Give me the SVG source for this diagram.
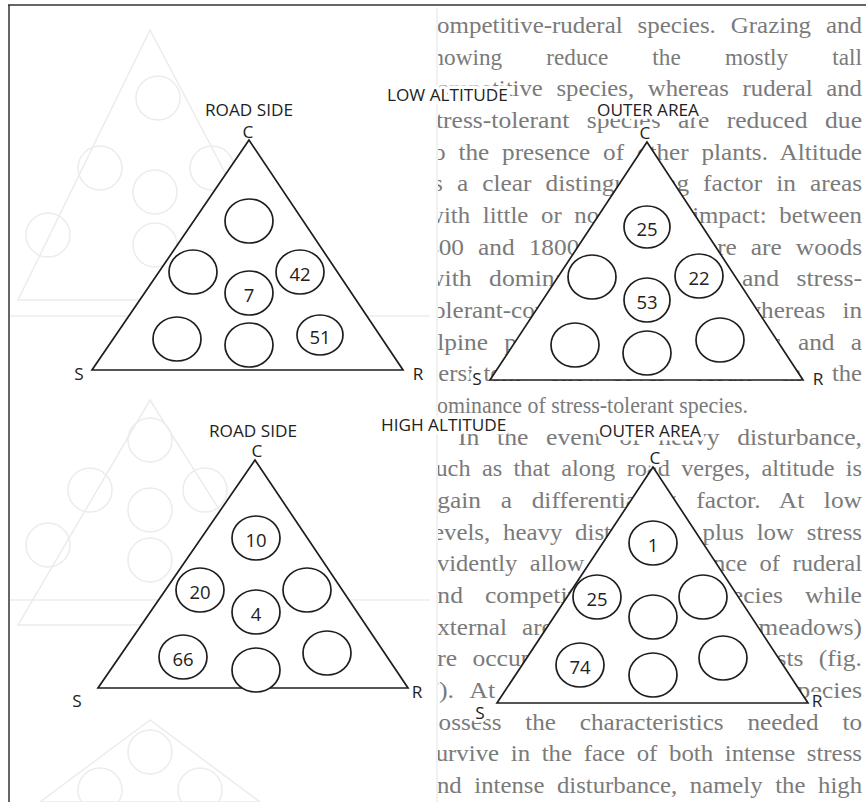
<svg xmlns="http://www.w3.org/2000/svg" width="866" height="802" viewBox="0 0 866 802">
<defs>
<style>
.body{font-family:"Liberation Serif","Times New Roman",serif;font-size:23px;fill:#7a7a7a}
.lbl{font-family:"Open Sans","Liberation Sans",Arial,sans-serif;font-size:17.2px;fill:#222;text-anchor:middle;stroke:#ffffff;stroke-width:7px;stroke-linejoin:round;paint-order:stroke}
.ttl{font-family:"Open Sans","Liberation Sans",Arial,sans-serif;font-size:17.2px;fill:#222;stroke:#ffffff;stroke-width:7px;stroke-linejoin:round;paint-order:stroke}
.num{font-family:"Open Sans","Liberation Sans",Arial,sans-serif;font-size:18.5px;fill:#222;text-anchor:middle;dominant-baseline:central}
.tri{fill:#ffffff;stroke:#1e1e1e;stroke-width:1.7}
.c{fill:#ffffff;stroke:#1e1e1e;stroke-width:1.7}
.frame{stroke:#333;stroke-width:1.5;fill:none}
.ghost{fill:none;stroke:#ececec;stroke-width:1.5}
</style>
<clipPath id="col"><rect x="438" y="0" width="428" height="802"/></clipPath>
</defs>
<rect x="0" y="0" width="866" height="802" fill="#ffffff"/>

<!-- faint bleed-through from the reverse page -->
<g id="ghost">
<line class="ghost" x1="437" y1="8" x2="437" y2="802"/>
<polygon class="ghost" points="150,30 18,300 292,300"/>
<circle class="ghost" cx="158" cy="98" r="22"/>
<circle class="ghost" cx="100" cy="168" r="22"/>
<circle class="ghost" cx="155" cy="192" r="22"/>
<circle class="ghost" cx="212" cy="168" r="22"/>
<circle class="ghost" cx="48" cy="235" r="22"/>
<circle class="ghost" cx="155" cy="245" r="22"/>
<line class="ghost" x1="10" y1="316" x2="430" y2="316"/>
<polygon class="ghost" points="150,400 18,625 292,625"/>
<circle class="ghost" cx="150" cy="440" r="22"/>
<circle class="ghost" cx="90" cy="490" r="22"/>
<circle class="ghost" cx="150" cy="510" r="22"/>
<circle class="ghost" cx="205" cy="490" r="22"/>
<circle class="ghost" cx="48" cy="545" r="22"/>
<circle class="ghost" cx="150" cy="560" r="22"/>
<line class="ghost" x1="10" y1="600" x2="430" y2="600"/>
<polygon class="ghost" points="150,720 40,802 260,802"/>
<circle class="ghost" cx="150" cy="752" r="22"/>
<circle class="ghost" cx="100" cy="790" r="22"/>
<circle class="ghost" cx="200" cy="790" r="22"/>
</g>

<!-- right column text of the page -->
<g id="bodytext" class="body" clip-path="url(#col)">
<text x="426" y="33" word-spacing="8" textLength="436" lengthAdjust="spacingAndGlyphs">competitive-ruderal species. Grazing and</text>
<text x="426" y="65" word-spacing="38" textLength="436" lengthAdjust="spacingAndGlyphs">mowing reduce the mostly tall</text>
<text x="426" y="96" word-spacing="7" textLength="436" lengthAdjust="spacingAndGlyphs">competitive species, whereas ruderal and</text>
<text x="426" y="128" word-spacing="10" textLength="436" lengthAdjust="spacingAndGlyphs">stress-tolerant species are reduced due</text>
<text x="426" y="160" word-spacing="6" textLength="436" lengthAdjust="spacingAndGlyphs">to the presence of other plants. Altitude</text>
<text x="426" y="191" word-spacing="7" textLength="436" lengthAdjust="spacingAndGlyphs">is a clear distinguishing factor in areas</text>
<text x="426" y="223" word-spacing="6" textLength="436" lengthAdjust="spacingAndGlyphs">with little or no human impact: between</text>
<text x="426" y="255" word-spacing="7" textLength="436" lengthAdjust="spacingAndGlyphs">400 and 1800-2000 m there are woods</text>
<text x="426" y="286" word-spacing="10" textLength="436" lengthAdjust="spacingAndGlyphs">with dominant competitive and stress-</text>
<text x="426" y="318" word-spacing="10" textLength="436" lengthAdjust="spacingAndGlyphs">tolerant-competitive species, whereas in</text>
<text x="426" y="350" word-spacing="9" textLength="436" lengthAdjust="spacingAndGlyphs">alpine prairies low temperatures and a</text>
<text x="426" y="381" word-spacing="23" textLength="436" lengthAdjust="spacingAndGlyphs">persistent snow-cover result in the</text>
<text x="426" y="413" textLength="322" lengthAdjust="spacingAndGlyphs">dominance of stress-tolerant species.</text>
<text x="458" y="445" word-spacing="10" textLength="404" lengthAdjust="spacingAndGlyphs">In the event of heavy disturbance,</text>
<text x="426" y="476" word-spacing="5" textLength="436" lengthAdjust="spacingAndGlyphs">such as that along road verges, altitude is</text>
<text x="426" y="508" word-spacing="12" textLength="436" lengthAdjust="spacingAndGlyphs">again a differentiating factor. At low</text>
<text x="426" y="540" word-spacing="6" textLength="436" lengthAdjust="spacingAndGlyphs">levels, heavy disturbance plus low stress</text>
<text x="426" y="571" word-spacing="6" textLength="436" lengthAdjust="spacingAndGlyphs">evidently allow the dominance of ruderal</text>
<text x="426" y="603" word-spacing="14" textLength="436" lengthAdjust="spacingAndGlyphs">and competitive-ruderal species while</text>
<text x="426" y="635" word-spacing="8" textLength="436" lengthAdjust="spacingAndGlyphs">external areas (mostly mown meadows)</text>
<text x="426" y="666" word-spacing="8" textLength="436" lengthAdjust="spacingAndGlyphs">are occupied by C-S-R strategists (fig.</text>
<text x="426" y="698" word-spacing="9" textLength="436" lengthAdjust="spacingAndGlyphs">7). At high altitude very few species</text>
<text x="426" y="730" word-spacing="16" textLength="436" lengthAdjust="spacingAndGlyphs">possess the characteristics needed to</text>
<text x="426" y="761" word-spacing="5" textLength="436" lengthAdjust="spacingAndGlyphs">survive in the face of both intense stress</text>
<text x="426" y="793" word-spacing="6" textLength="436" lengthAdjust="spacingAndGlyphs">and intense disturbance, namely the high</text>
</g>

<!-- frame -->
<g id="frame">
<line class="frame" x1="8" y1="5" x2="866" y2="5"/>
<line class="frame" x1="9" y1="5" x2="9" y2="802"/>
</g>

<text id="t-low" class="ttl" x="387" y="101">LOW ALTITUDE</text>
<text id="t-high" class="ttl" x="381" y="431">HIGH ALTITUDE</text>

<!-- Panel 1: low altitude, road side -->
<g id="low-road">
<text class="lbl" x="249" y="116">ROAD SIDE</text>
<text class="lbl" x="248" y="138">C</text>
<text class="lbl" x="79" y="380">S</text>
<text class="lbl" x="418" y="380">R</text>
<polygon class="tri" points="249,140 92,370 403,370"/>
<ellipse class="c" cx="249" cy="221" rx="24" ry="22"/>
<ellipse class="c" cx="193" cy="272" rx="24" ry="22"/>
<ellipse class="c" cx="249" cy="293" rx="24" ry="22"/>
<ellipse class="c" cx="300" cy="272" rx="24" ry="22"/>
<ellipse class="c" cx="177" cy="339" rx="24" ry="22"/>
<ellipse class="c" cx="249" cy="345" rx="24" ry="22"/>
<ellipse class="c" cx="320" cy="335" rx="23" ry="20"/>
<text class="num" x="249" y="294">7</text>
<text class="num" x="300" y="273">42</text>
<text class="num" x="320" y="336">51</text>
</g>

<!-- Panel 2: low altitude, outer area -->
<g id="low-outer">
<text class="lbl" x="648" y="116">OUTER AREA</text>
<text class="lbl" x="645" y="139">C</text>
<text class="lbl" x="477" y="385">S</text>
<text class="lbl" x="818" y="385">R</text>
<polygon class="tri" points="647,142 490,380 803,380"/>
<ellipse class="c" cx="647" cy="227" rx="23" ry="21"/>
<ellipse class="c" cx="592" cy="277" rx="24" ry="22"/>
<ellipse class="c" cx="647" cy="300" rx="23" ry="22"/>
<ellipse class="c" cx="699" cy="276" rx="24" ry="22"/>
<ellipse class="c" cx="575" cy="345" rx="24" ry="22"/>
<ellipse class="c" cx="647" cy="353" rx="24" ry="22"/>
<ellipse class="c" cx="720" cy="340" rx="24" ry="22"/>
<text class="num" x="647" y="228">25</text>
<text class="num" x="647" y="301">53</text>
<text class="num" x="699" y="277">22</text>
</g>

<!-- Panel 3: high altitude, road side -->
<g id="high-road">
<text class="lbl" x="253" y="437">ROAD SIDE</text>
<text class="lbl" x="257" y="457">C</text>
<text class="lbl" x="77" y="707">S</text>
<text class="lbl" x="417" y="698">R</text>
<polygon class="tri" points="255,460 98,688 408,688"/>
<ellipse class="c" cx="256" cy="538" rx="24" ry="22"/>
<ellipse class="c" cx="200" cy="590" rx="24" ry="22"/>
<ellipse class="c" cx="256" cy="612" rx="24" ry="22"/>
<ellipse class="c" cx="307" cy="590" rx="24" ry="22"/>
<ellipse class="c" cx="183" cy="657" rx="24" ry="22"/>
<ellipse class="c" cx="256" cy="670" rx="24" ry="22"/>
<ellipse class="c" cx="327" cy="653" rx="24" ry="22"/>
<text class="num" x="256" y="539">10</text>
<text class="num" x="200" y="591">20</text>
<text class="num" x="256" y="613">4</text>
<text class="num" x="183" y="658">66</text>
</g>

<!-- Panel 4: high altitude, outer area -->
<g id="high-outer">
<text class="lbl" x="650" y="437">OUTER AREA</text>
<text class="lbl" x="655" y="464">C</text>
<text class="lbl" x="480" y="719">S</text>
<text class="lbl" x="817" y="707">R</text>
<polygon class="tri" points="653,467 497,703 808,703"/>
<ellipse class="c" cx="653" cy="543" rx="24" ry="22"/>
<ellipse class="c" cx="597" cy="597" rx="24" ry="22"/>
<ellipse class="c" cx="653" cy="617" rx="24" ry="22"/>
<ellipse class="c" cx="703" cy="597" rx="24" ry="22"/>
<ellipse class="c" cx="580" cy="665" rx="24" ry="22"/>
<ellipse class="c" cx="653" cy="675" rx="24" ry="22"/>
<ellipse class="c" cx="723" cy="658" rx="24" ry="22"/>
<text class="num" x="653" y="544">1</text>
<text class="num" x="597" y="598">25</text>
<text class="num" x="580" y="666">74</text>
</g>
</svg>
